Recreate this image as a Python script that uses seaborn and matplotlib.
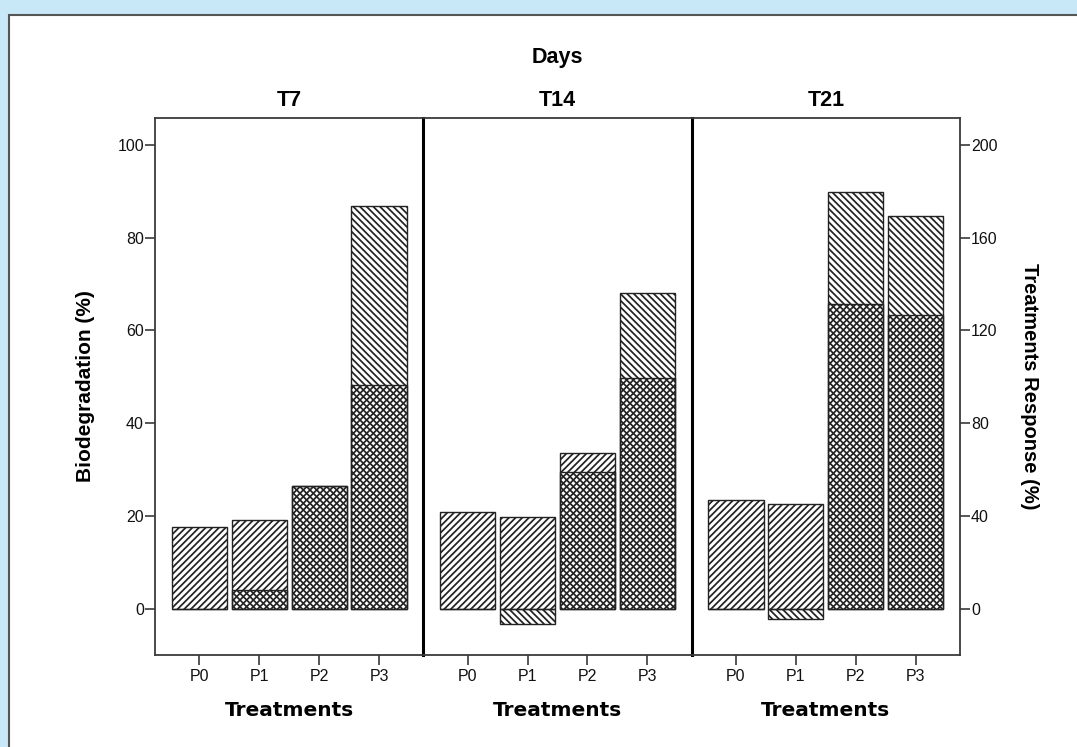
import numpy as np
import pandas as pd
import seaborn as sns
import matplotlib.pyplot as plt
from matplotlib.patches import Rectangle

# data
days = ['T7', 'T14', 'T21']
treatments = ['P0', 'P1', 'P2', 'P3']
biodeg_t7 = [17.7, 19.2, 26.5, 48.3]
biodeg_t14 = [20.9, 19.8, 33.6, 49.8]
biodeg_t21 = [23.5, 22.6, 65.7, 63.4]
response_t7 = [0.0, 8.2, 53.0, 173.7]
response_t14 = [0.0, -6.5, 59.0, 136.2]
response_t21 = [0.0, -4.3, 179.7, 169.4]

rows = []
for day, bio, resp in zip(days, [biodeg_t7, biodeg_t14, biodeg_t21],
                          [response_t7, response_t14, response_t21]):
    for t, b, r in zip(treatments, bio, resp):
        rows.append({'Days': day, 'Treatments': t, 'Biodegradation': b, 'Response': r})
df = pd.DataFrame(rows)

sns.set_style('ticks')
plt.rcParams['font.family'] = ['Liberation Sans', 'DejaVu Sans']
plt.rcParams['hatch.linewidth'] = 1.25
plt.rcParams['text.color'] = 'black'
plt.rcParams['axes.labelcolor'] = 'black'
plt.rcParams['xtick.labelcolor'] = '#111111'
plt.rcParams['ytick.labelcolor'] = '#111111'

EDGE = '#222222'
SPINE = '#3a3a3a'

fig = plt.figure(figsize=(10.77, 7.47), dpi=100)
fig.patch.set_facecolor('#c8e8f8')
fig.add_artist(Rectangle((9 / 1077, -0.1), 1.2, 1 - 15 / 747 + 0.1, transform=fig.transFigure,
                         facecolor='white', edgecolor='#555555', linewidth=1.5, zorder=0))

left, right, bottom, top = 155 / 1077, 960 / 1077, 92 / 747, 1 - 118 / 747
pw = (right - left) / 3
axes = [fig.add_axes([left + i * pw, bottom, pw, top - bottom]) for i in range(3)]

for i, (ax, day) in enumerate(zip(axes, days)):
    ax.patch.set_visible(False)
    sub = df[df['Days'] == day]
    sns.barplot(data=sub, x='Treatments', y='Biodegradation', order=treatments, ax=ax,
                color='white', edgecolor=EDGE, linewidth=1.0, width=0.92,
                errorbar=None, hatch='/////', saturation=1)
    for p in ax.patches:
        p.set_facecolor('white')

    twin = ax.twinx()
    sns.barplot(data=sub, x='Treatments', y='Response', order=treatments, ax=twin,
                color='white', edgecolor=EDGE, linewidth=1.0, width=0.92,
                errorbar=None, hatch='\\\\\\\\\\', saturation=1)
    for p in twin.patches:
        p.set_facecolor('none')

    ax.set_xlim(-0.74, 3.74)
    ax.set_ylim(-10, 105.8)
    twin.set_ylim(-20, 211.6)
    ax.set_yticks([0, 20, 40, 60, 80, 100])
    twin.set_yticks([0, 40, 80, 120, 160, 200])

    ax.set_title(day, fontsize=15.5, fontweight='bold', pad=9)
    ax.set_xlabel('Treatments', fontsize=14.5, fontweight='bold', family='DejaVu Sans', labelpad=12)
    ax.tick_params(axis='x', length=7, width=1.2, pad=3, labelsize=11.5, color=SPINE)
    ax.tick_params(axis='y', length=7, width=1.2, pad=1, labelsize=11.5, color=SPINE)
    twin.tick_params(axis='y', length=7, width=1.2, pad=1, labelsize=11.5, color=SPINE)

    for s in ['top', 'bottom']:
        ax.spines[s].set_color(SPINE)
        ax.spines[s].set_linewidth(1.3)
    for s in twin.spines.values():
        s.set_visible(False)

    if i == 0:
        ax.spines['left'].set_color(SPINE)
        ax.spines['left'].set_linewidth(1.3)
        ax.set_ylabel('Biodegradation (%)', fontsize=15, fontweight='bold', labelpad=16)
    else:
        ax.spines['left'].set_visible(False)
        ax.tick_params(axis='y', left=False, labelleft=False)
        ax.set_ylabel('')

    if i < 2:
        ax.spines['right'].set_color('black')
        ax.spines['right'].set_linewidth(2.2)
        ax.spines['right'].set_zorder(5)
        twin.tick_params(axis='y', right=False, labelright=False)
        twin.set_ylabel('')
    else:
        ax.spines['right'].set_color(SPINE)
        ax.spines['right'].set_linewidth(1.3)
        twin.set_ylabel('Treatments Response (%)', fontsize=14.5, fontweight='bold',
                        rotation=270, va='bottom', labelpad=16)

fig.text((left + right) / 2, 1 - 57 / 747, 'Days', ha='center', va='center',
         fontsize=15.5, fontweight='bold')

fig.savefig('out.png', dpi=100, facecolor=fig.get_facecolor())
